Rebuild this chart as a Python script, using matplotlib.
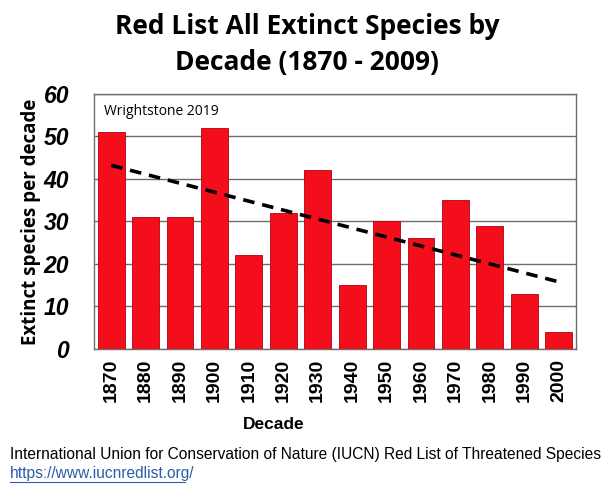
import matplotlib
matplotlib.use("Agg")
import matplotlib.pyplot as plt
import numpy as np

decades = ["1870", "1880", "1890", "1900", "1910", "1920", "1930",
           "1940", "1950", "1960", "1970", "1980", "1990", "2000"]
extinct = [51, 31, 31, 52, 22, 32, 42, 15, 30, 26, 35, 29, 13, 4]
yticks = [0, 10, 20, 30, 40, 50, 60]

fig = plt.figure(figsize=(6.1, 4.84), dpi=100)
ax = fig.add_axes([0.154, 0.279, 0.79, 0.527])

x = np.arange(len(decades))
ax.bar(x, extinct, width=0.78, color="#f40d1a", edgecolor="#b00010", linewidth=0.6, zorder=3)

coef = np.polyfit(x, extinct, 1)
ax.plot(x, np.polyval(coef, x), ls=(0, (3.2, 2.2)), color="black", lw=2.6, zorder=4)

ax.set_xlim(-0.5, len(decades) - 0.5)
ax.set_ylim(0, 60)
ax.set_yticks(yticks)
ax.set_yticklabels([str(t) for t in yticks], fontsize=16.5, fontweight="bold", style="italic",
                   family="Liberation Sans")
ax.set_xticks(x)
ax.set_xticklabels(decades, rotation=90, fontsize=14, fontweight="bold", family="Liberation Sans")
ax.tick_params(length=0, pad=7)
ax.tick_params(axis="y", pad=18)
ax.yaxis.grid(True, color="#6e6e6e", lw=1.0, zorder=0)
for s in ax.spines.values():
    s.set_color("#6e6e6e")
    s.set_linewidth(1.0)

ax.set_ylabel("Extinct species per decade", fontsize=13.5, fontweight="bold", family="Open Sans", labelpad=2)
ax.set_xlabel("Decade", fontsize=12.5, fontweight="bold", family="Liberation Sans", labelpad=-2)
ax.xaxis.set_label_coords(0.372, -0.265)

ax.text(0.02, 0.93, "Wrightstone 2019", transform=ax.transAxes, fontsize=10, family="Open Sans",
        va="center", ha="left")

fig.text(0.503, 0.946, "Red List All Extinct Species by", ha="center", va="center",
         fontsize=19, fontweight="bold", family="Open Sans")
fig.text(0.503, 0.870, "Decade (1870 - 2009)", ha="center", va="center",
         fontsize=19, fontweight="bold", family="Open Sans")

fig.text(0.016, 0.060, "International Union for Conservation of Nature (IUCN) Red List of Threatened Species",
         ha="left", va="center", fontsize=11.2, family="Liberation Sans")
fig.text(0.016, 0.022, "https://www.iucnredlist.org/", ha="left", va="center",
         fontsize=11.2, family="Liberation Sans", color="#2a5ea8")
fig.add_artist(plt.Line2D([0.016, 0.303], [0.004, 0.004], color="#2a5ea8", lw=0.8))

fig.savefig("out.png", dpi=100)
